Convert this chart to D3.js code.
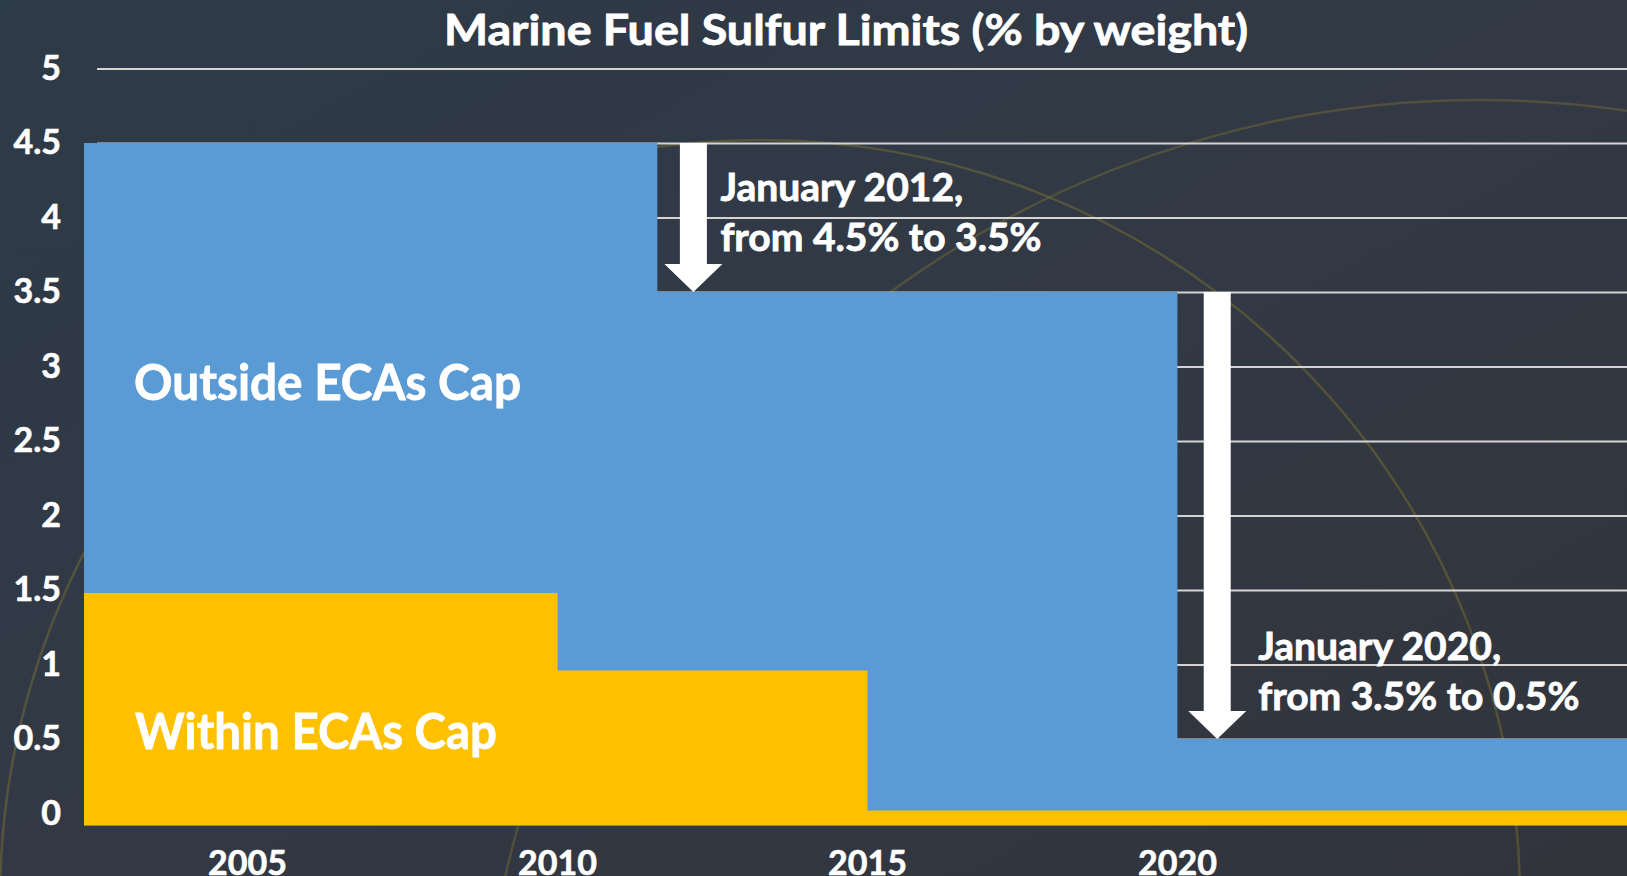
<!DOCTYPE html>
<html>
<head>
<meta charset="utf-8">
<script src="https://cdn.jsdelivr.net/npm/d3@7"></script>
<style>
  body { margin: 0; background: #30353e; }
  svg { display: block; }
</style>
</head>
<body>
<script>
// data
var title = "Marine Fuel Sulfur Limits (% by weight)";
var outsideStart = [2002.37, 2011.61, 2020];
var outsideCap = [4.5, 3.5, 0.5];
var withinStart = [2002.37, 2010, 2015];
var withinCap = [1.48, 0.96, 0.02];
var endYear = 2027.26;
var floorVal = -0.08;
var yTicks = [0, 0.5, 1, 1.5, 2, 2.5, 3, 3.5, 4, 4.5, 5];
var xTicks = [2005, 2010, 2015, 2020];
var noteYear = [2012.2, 2020.65];
var noteFrom = [4.5, 3.5];
var noteTo = [3.5, 0.5];
var noteLines = [["January 2012,", "from 4.5% to 3.5%"], ["January 2020,", "from 3.5% to 0.5%"]];

var w = 1627;
var h = 876;
var font = "Lato, 'Open Sans', sans-serif";

var x = d3.scaleLinear().domain([2002.37, endYear]).range([84, w]);
var y = d3.scaleLinear().domain([0, 5]).range([813.5, 68.5]);

var svg = d3.select("body").append("svg")
  .attr("width", w)
  .attr("height", h);

// background
var defs = svg.append("defs");
var bg = defs.append("linearGradient").attr("id", "bg")
  .attr("x1", 0).attr("y1", 0).attr("x2", 1).attr("y2", 1);
bg.append("stop").attr("offset", "0%").attr("stop-color", "#2d3a47");
bg.append("stop").attr("offset", "50%").attr("stop-color", "#323945");
bg.append("stop").attr("offset", "100%").attr("stop-color", "#31343b");
svg.append("rect").attr("width", w).attr("height", h).attr("fill", "url(#bg)");

// faint arcs of the backdrop
svg.append("circle").attr("cx", 760).attr("cy", 900).attr("r", 760)
  .attr("fill", "none").attr("stroke", "#8a7a2e").attr("stroke-opacity", 0.4).attr("stroke-width", 2.5);
svg.append("circle").attr("cx", 1480).attr("cy", 1100).attr("r", 1000)
  .attr("fill", "none").attr("stroke", "#8a7a2e").attr("stroke-opacity", 0.35).attr("stroke-width", 2.5);

// gridlines + y labels
var yAxis = svg.append("g")
  .attr("transform", "translate(97,0)")
  .call(d3.axisLeft(y).tickValues(yTicks).tickSize(-(w - 97)).tickPadding(36).tickFormat(function(d) { return d; }));
yAxis.select(".domain").remove();
yAxis.selectAll("line").attr("stroke", "#d4d4d4").attr("stroke-width", 2);
yAxis.selectAll("text")
  .attr("fill", "#ffffff")
  .attr("stroke", "#ffffff")
  .attr("stroke-width", 0.6)
  .attr("font-family", font)
  .attr("font-weight", "bold")
  .attr("font-size", "34px");

// step bars
function segs(starts, vals) {
  return starts.map(function(s, i) {
    return { x0: s, x1: i < starts.length - 1 ? starts[i + 1] : endYear, v: vals[i] };
  });
}

svg.append("g").selectAll("rect")
  .data(segs(outsideStart, outsideCap))
  .enter()
  .append("rect")
  .attr("x", function(d) { return x(d.x0); })
  .attr("width", function(d) { return x(d.x1) - x(d.x0) + 0.5; })
  .attr("y", function(d) { return y(d.v); })
  .attr("height", function(d) { return y(floorVal) - y(d.v); })
  .attr("fill", "#5b9bd5");

svg.append("g").selectAll("rect")
  .data(segs(withinStart, withinCap))
  .enter()
  .append("rect")
  .attr("x", function(d) { return x(d.x0); })
  .attr("width", function(d) { return x(d.x1) - x(d.x0) + 0.5; })
  .attr("y", function(d) { return y(d.v); })
  .attr("height", function(d) { return y(floorVal) - y(d.v); })
  .attr("fill", "#ffc000");

// x labels
var xAxis = svg.append("g")
  .attr("transform", "translate(0," + y(floorVal) + ")")
  .call(d3.axisBottom(x).tickValues(xTicks).tickSize(0).tickPadding(25).tickFormat(d3.format("d")));
xAxis.select(".domain").remove();
xAxis.selectAll("text")
  .attr("fill", "#ffffff")
  .attr("stroke", "#ffffff")
  .attr("stroke-width", 0.6)
  .attr("font-family", font)
  .attr("font-weight", "bold")
  .attr("font-size", "34px");

function fit(sel, target) {
  sel.each(function() {
    var len = this.getComputedTextLength();
    if (Math.abs(len - target) > 2) {
      d3.select(this).attr("textLength", target).attr("lengthAdjust", "spacingAndGlyphs");
    }
  });
}

function label(txt, px, py, size, target) {
  svg.append("text")
    .text(txt)
    .attr("x", px)
    .attr("y", py)
    .attr("fill", "#ffffff")
    .attr("stroke", "#ffffff")
    .attr("stroke-width", 0.8)
    .attr("font-family", font)
    .attr("font-weight", "bold")
    .attr("font-size", size + "px")
    .call(fit, target);
}

// title
label(title, 444, 45, 42, 804);

// series labels
label("Outside ECAs Cap", 134, 400, 49, 387);
label("Within ECAs Cap", 135, 749, 49, 362);

// arrows with notes
var shaft = 27;
var head = 58;
var headLen = 28;
var noteDx = [27, 41];
var noteDy = [41, 29];
noteYear.forEach(function(yr, i) {
  var cx = x(yr);
  var top = y(noteFrom[i]);
  var tip = y(noteTo[i]);
  var pts = [
    [cx - shaft / 2, top], [cx + shaft / 2, top],
    [cx + shaft / 2, tip - headLen], [cx + head / 2, tip - headLen],
    [cx, tip],
    [cx - head / 2, tip - headLen], [cx - shaft / 2, tip - headLen]
  ];
  svg.append("polygon")
    .attr("points", pts.map(function(p) { return p.join(","); }).join(" "))
    .attr("fill", "#ffffff");

  var tx = cx + noteDx[i];
  var b2 = tip - noteDy[i];
  label(noteLines[i][0], tx, b2 - 50, 39, 242);
  label(noteLines[i][1], tx, b2, 39, 322);
});
</script>
</body>
</html>
